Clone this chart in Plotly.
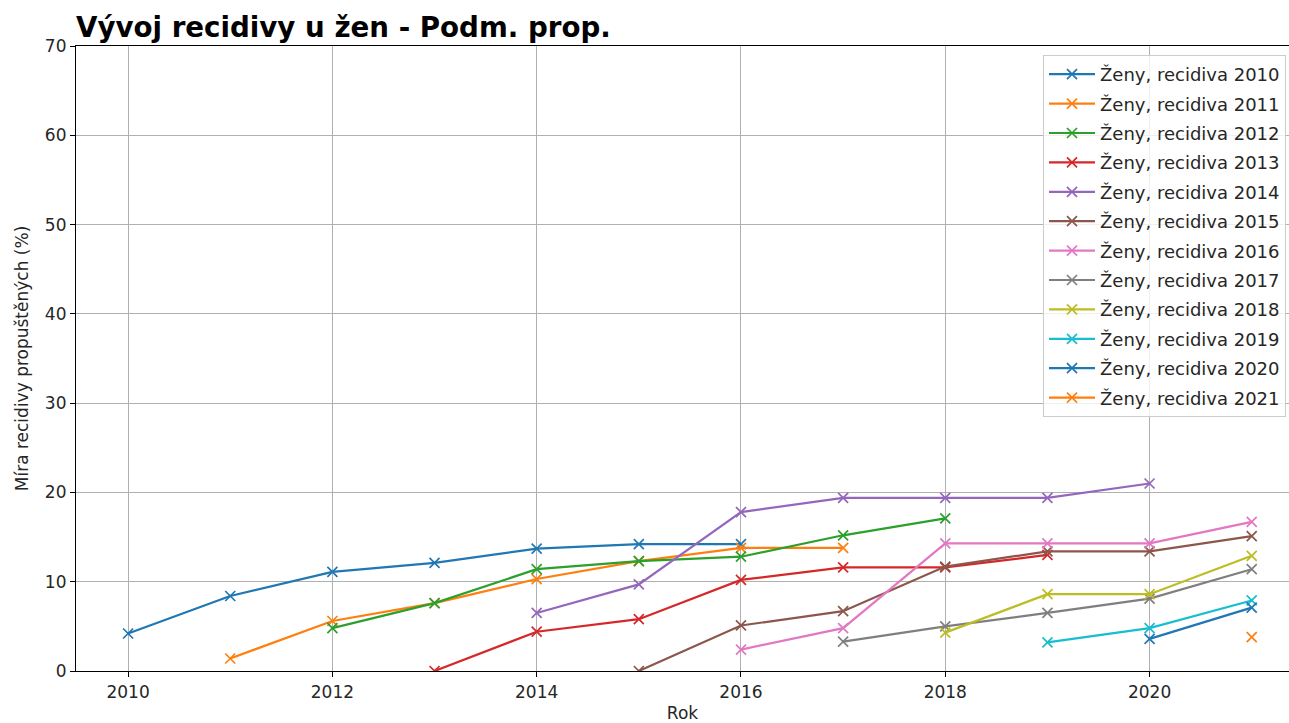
import plotly.graph_objects as go

years = list(range(2010, 2022))

series_names = [f"Ženy, recidiva {y}" for y in range(2010, 2022)]

# values per cohort, aligned with `years` (None = no data)
r2010 = [4.2, 8.4, 11.1, 12.1, 13.7, 14.2, 14.2, None, None, None, None, None]
r2011 = [None, 1.4, 5.6, 7.6, 10.3, 12.3, 13.8, 13.8, None, None, None, None]
r2012 = [None, None, 4.8, 7.6, 11.4, 12.3, 12.8, 15.2, 17.1, None, None, None]
r2013 = [None, None, None, 0.0, 4.4, 5.8, 10.2, 11.6, 11.6, 13.0, None, None]
r2014 = [None, None, None, None, 6.5, 9.7, 17.8, 19.4, 19.4, 19.4, 21.0, None]
r2015 = [None, None, None, None, None, 0.0, 5.1, 6.7, 11.7, 13.4, 13.4, 15.1]
r2016 = [None, None, None, None, None, None, 2.4, 4.8, 14.3, 14.3, 14.3, 16.7]
r2017 = [None, None, None, None, None, None, None, 3.3, 5.0, 6.5, 8.1, 11.4]
r2018 = [None, None, None, None, None, None, None, None, 4.3, 8.6, 8.6, 12.9]
r2019 = [None, None, None, None, None, None, None, None, None, 3.2, 4.8, 7.9]
r2020 = [None, None, None, None, None, None, None, None, None, None, 3.6, 7.1]
r2021 = [None, None, None, None, None, None, None, None, None, None, None, 3.8]

all_series = [r2010, r2011, r2012, r2013, r2014, r2015, r2016, r2017, r2018, r2019, r2020, r2021]

colors = ["#1f77b4", "#ff7f0e", "#2ca02c", "#d62728", "#9467bd", "#8c564b",
          "#e377c2", "#7f7f7f", "#bcbd22", "#17becf", "#1f77b4", "#ff7f0e"]

x_ticks = [2010, 2012, 2014, 2016, 2018, 2020]
y_ticks = [0, 10, 20, 30, 40, 50, 60, 70]

FONT = "DejaVu Sans"
W, H = 1289, 723
L, R, T, B = 76, 0, 46, 52

fig = go.Figure()
for i, (name, vals) in enumerate(zip(series_names, all_series)):
    fig.add_trace(go.Scatter(
        x=years, y=vals, name=name, mode="lines+markers",
        line=dict(color=colors[i], width=2.2),
        marker=dict(symbol="x-thin", size=10, line=dict(color=colors[i], width=1.7)),
        legendgroup=f"g{i}",
        connectgaps=False,
    ))

fig.update_layout(
    width=W, height=H,
    paper_bgcolor="white", plot_bgcolor="white",
    margin=dict(l=L, r=R, t=T, b=B, autoexpand=False),
    font=dict(family=FONT, size=17, color="#262626"),
    title=dict(text="<b>Vývoj recidivy u žen - Podm. prop.</b>", x=L / W, xanchor="left",
               y=1 - 27 / H, yanchor="middle", font=dict(family=FONT, size=27.7, color="black")),
    legend=dict(x=(1043 - L) / (W - L - R), y=(H - B - 55) / (H - B - T), xanchor="left", yanchor="top",
                bgcolor="rgba(255,255,255,0.8)", bordercolor="#cccccc", borderwidth=1,
                itemwidth=46,
                font=dict(family=FONT, size=18, color="#262626"), tracegroupgap=3),
    showlegend=True,
)
fig.update_xaxes(
    range=[2009.49, 2021.365], tickvals=x_ticks, ticktext=[str(t) for t in x_ticks],
    showgrid=True, gridcolor="#b0b0b0", gridwidth=1,
    showline=True, linecolor="black", linewidth=1.2, mirror=True,
    ticks="outside", ticklen=5, tickcolor="black", automargin=False,
    tickfont=dict(size=17),
    title=dict(text="Rok", standoff=6, font=dict(size=17)), zeroline=False,
)
fig.update_yaxes(
    range=[0, 70], tickvals=y_ticks,
    showgrid=True, gridcolor="#b0b0b0", gridwidth=1,
    showline=True, linecolor="black", linewidth=1.2,
    ticks="outside", ticklen=5, tickcolor="black", automargin=False,
    tickfont=dict(size=17),
    title=dict(text="Míra recidivy propuštěných (%)", standoff=11, font=dict(size=17)), zeroline=False,
)

fig.write_html("out.html", config={"displayModeBar": False},
               post_script="document.body.style.margin='0';document.body.style.overflow='hidden';")
